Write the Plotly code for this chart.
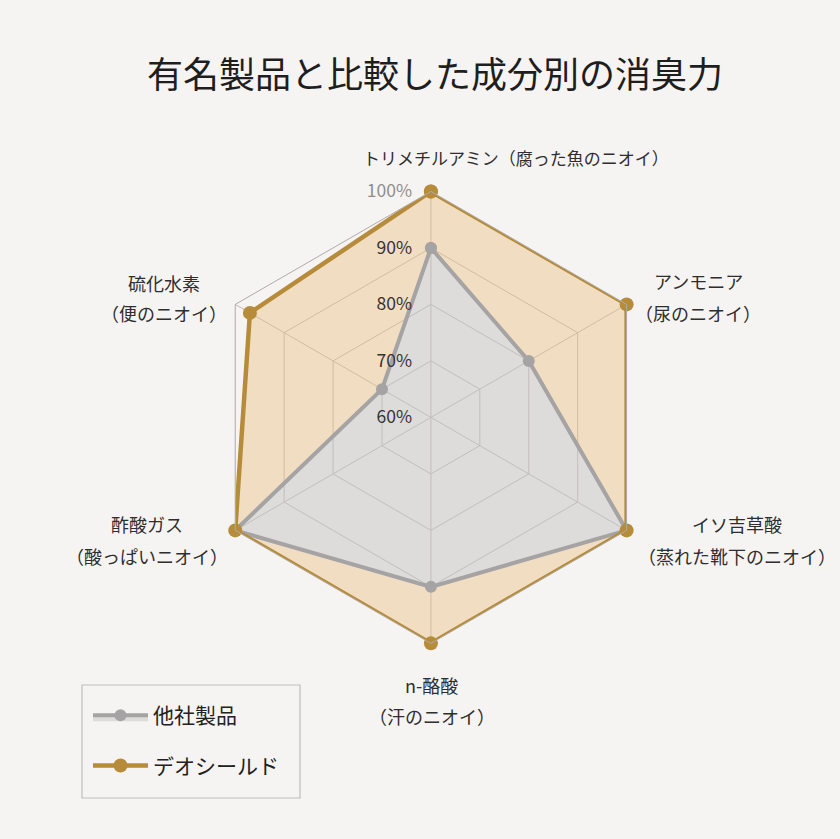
import plotly.graph_objects as go

# 成分（軸）
categories = ['トリメチルアミン', 'アンモニア', 'イソ吉草酸', 'n-酪酸', '酢酸ガス', '硫化水素']
smell_notes = ['（腐った魚のニオイ）', '（尿のニオイ）', '（蒸れた靴下のニオイ）', '（汗のニオイ）',
               '（酸っぱいニオイ）', '（便のニオイ）']

# 消臭率 (%)
other_product = [90, 80, 100, 90, 100, 70]
deo_shield = [100, 100, 100, 100, 100, 97]

radial_ticks = [60, 70, 80, 90, 100]
pad = '\u00a0' * 4
radial_text = [f'{v}%{pad}' for v in radial_ticks[:-1]] + \
              [f'<span style="color:#8e8e8e">{radial_ticks[-1]}%</span>{pad}']

GOLD = '#b68b3a'
GREY = '#a5a3a3'
BG = '#f6f4f3'
W, H = 840, 839

closed = lambda v: v + v[:1]
theta = closed(categories)

fig = go.Figure()

# gold fill with the grey polygon cut out (so the grey area stays neutral)
ring_r = closed(deo_shield) + [None] + closed(other_product)[::-1]
ring_t = theta + [None] + theta[::-1]
fig.add_trace(go.Scatterpolar(
    r=ring_r, theta=ring_t, fill='toself',
    fillcolor='rgba(236,192,135,0.45)', line=dict(width=0), mode='lines',
    showlegend=False, hoverinfo='skip'))

fig.add_trace(go.Scatterpolar(
    r=closed(other_product), theta=theta, name='他社製品', fill='toself', legendgroup='a',
    fillcolor='rgba(196,196,196,0.5)', mode='lines+markers',
    line=dict(color=GREY, width=4), marker=dict(size=12, color=GREY)))

fig.add_trace(go.Scatterpolar(
    r=closed(deo_shield), theta=theta, name='デオシールド', mode='lines+markers', legendgroup='b',
    line=dict(color=GOLD, width=4.5), marker=dict(size=14, color=GOLD)))

# 軸ラベル (pixel centres of line 1 / line 2)
label_pos = [
    (516, 158, None),
    (698, 281, 313),
    (737, 524, 556),
    (432, 685, 716),
    (147, 524, 556),
    (164, 283, 313),
]
for i, (x, y1, y2) in enumerate(label_pos):
    if y2 is None:
        parts = [(categories[i] + smell_notes[i], y1, 17)]
    else:
        parts = [(categories[i], y1, 18), (smell_notes[i], y2, 18)]
    for txt, y, fs in parts:
        fig.add_annotation(x=x / W, y=1 - y / H, xref='paper', yref='paper', text=txt,
                           showarrow=False, xanchor='center', yanchor='middle',
                           font=dict(size=fs, color='#2e2e2e'))

# legend frame
fig.add_shape(type='rect', xref='paper', yref='paper', x0=82 / W, x1=300 / W,
              y0=1 - 798 / H, y1=1 - 685 / H, line=dict(color='#bdbdbd', width=1.2),
              fillcolor='rgba(0,0,0,0)')

fig.update_layout(
    width=W, height=H,
    paper_bgcolor=BG, plot_bgcolor=BG,
    margin=dict(l=0, r=0, t=0, b=0),
    font=dict(family='Noto Sans CJK JP', color='#333333'),
    title=dict(text='有名製品と比較した成分別の消臭力', x=435 / W, xanchor='center',
               y=1 - 75 / H, yanchor='middle', font=dict(size=36, color='#1e1e1e')),
    polar=dict(
        bgcolor='rgba(0,0,0,0)',
        domain=dict(x=[0.244, 0.782], y=[0.233, 0.772]),
        gridshape='linear',
        angularaxis=dict(rotation=90, direction='clockwise', showticklabels=False, ticks='',
                         gridcolor='#bfb9b4', gridwidth=1, linecolor='#aeaaa8', linewidth=1),
        radialaxis=dict(range=[60, 100], tickvals=radial_ticks, ticktext=radial_text, angle=90,
                        tickangle=90, side='counterclockwise', showline=False, ticks='',
                        gridcolor='#bfb9b4', gridwidth=1,
                        tickfont=dict(size=17.5, color='#333333'), layer='above traces'),
    ),
    legend=dict(x=88 / W, y=1 - 695 / H, xanchor='left', yanchor='top', bgcolor='rgba(0,0,0,0)',
                borderwidth=0, font=dict(size=21, color='#222222'),
                tracegroupgap=20, itemwidth=55),
)

fig.write_html('out.html', config={'displayModeBar': False},
               post_script="document.body.style.margin='0';"
               "document.body.style.background='#f6f4f3';document.body.style.overflow='hidden';")
